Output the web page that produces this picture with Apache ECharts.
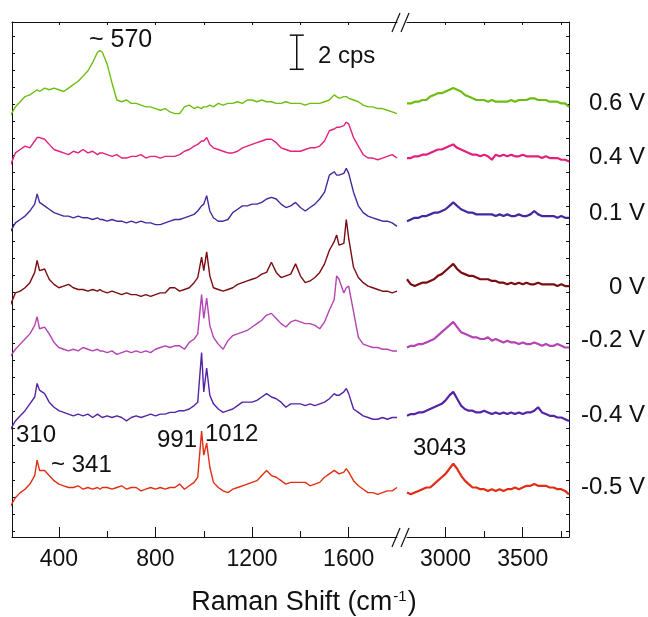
<!DOCTYPE html>
<html>
<head>
<meta charset="utf-8">
<script src="https://cdn.jsdelivr.net/npm/echarts@6/dist/echarts.min.js"></script>
<style>
html, body { margin: 0; padding: 0; background: #fff; }
#chart { width: 648px; height: 617px; }
</style>
</head>
<body>
<div id="chart"></div>
<script>
// 拉曼位移 (cm-1)，左段 200-1800，右段 2750-3800
const xLeft = [200, 220, 240, 260, 280, 300, 310, 320, 341, 360, 380, 400, 420, 440, 460, 480, 500, 520, 540, 560, 570, 580,
  600, 620, 640, 660, 680, 700, 720, 740, 760, 780, 800, 820, 840, 860, 880, 900, 920, 940, 960, 975, 991, 1000, 1012, 1025, 1040,
  1060, 1080, 1100, 1120, 1140, 1160, 1180, 1200, 1220, 1240, 1260, 1280, 1300, 1320, 1340, 1360, 1380, 1400, 1420, 1440, 1460, 1480,
  1500, 1520, 1540, 1550, 1560, 1580, 1590, 1600, 1620, 1640, 1660, 1680, 1700, 1720, 1740, 1760, 1780, 1800]
const xRight = [2750, 2775, 2800, 2825, 2850, 2875, 2900, 2925, 2950, 2975, 3000, 3025, 3050, 3075, 3100, 3125, 3150, 3175, 3200, 3225,
  3250, 3275, 3300, 3325, 3350, 3375, 3400, 3425, 3450, 3475, 3500, 3525, 3550, 3575, 3600, 3625, 3650, 3675, 3700, 3725, 3750, 3775, 3800]

// 刻度
const leftTicks = [400, 800, 1200, 1600]
const leftMinor = [600, 1000, 1400]
const rightTicks = [3000, 3500]
const rightMinor = [3250, 3750]
const yTicks = [0.35, 1.35, 2.35, 3.35, 4.35, 5.35, 6.35, 7.35, 8.35, 9.35, 10.35, 11.35, 12.35, 13.35, 14.35,
  15.35, 16.35, 17.35, 18.35, 19.35, 20.35, 21.35, 22.35, 23.35, 24.35, 25.35, 26.35, 27.35, 28.35, 29.35]

const voltages = ['0.6 V', '0.4 V', '0.1 V', '0 V', '-0.2 V', '-0.4 V', '-0.5 V']

// 各电位谱线（cps，已含堆叠偏移）
const p06L = [24.7, 25.2, 25.5, 25.8, 25.9, 26.1, 26.2, 26.1, 26.3, 26.2, 26.3, 26.2, 26.1, 26.3, 26.5, 26.7, 27.0, 27.3, 27.8, 28.4, 28.5, 28.4,
  27.7, 26.6, 25.6, 25.5, 25.6, 25.4, 25.4, 25.3, 25.2, 25.2, 25.1, 25.0, 25.1, 24.9, 24.8, 24.8, 25.2, 25.3, 25.1, 25.2, 25.1, 25.2, 25.2, 25.3, 25.2,
  25.4, 25.3, 25.4, 25.4, 25.5, 25.4, 25.6, 25.6, 25.5, 25.6, 25.5, 25.5, 25.4, 25.4, 25.5, 25.4, 25.4, 25.4, 25.3, 25.4, 25.4, 25.4,
  25.5, 25.6, 25.9, 25.8, 25.7, 25.8, 25.8, 25.7, 25.6, 25.5, 25.3, 25.2, 25.2, 25.1, 25.1, 25.0, 24.9, 24.8]
const p06R = [25.4, 25.4, 25.5, 25.5, 25.6, 25.6, 25.8, 25.9, 26.0, 26.0, 26.1, 26.2, 26.3, 26.2, 26.1, 25.9, 25.8, 25.7, 25.6, 25.6,
  25.6, 25.5, 25.6, 25.5, 25.5, 25.5, 25.5, 25.6, 25.5, 25.6, 25.6, 25.6, 25.7, 25.7, 25.6, 25.6, 25.6, 25.5, 25.5, 25.5, 25.4, 25.4, 25.2]

const p04L = [21.8, 22.5, 22.7, 22.9, 22.8, 23.2, 23.4, 23.4, 23.3, 23.0, 22.7, 22.6, 22.5, 22.4, 22.6, 22.5, 22.7, 22.5, 22.6, 22.4, 22.5, 22.5,
  22.4, 22.3, 22.4, 22.2, 22.2, 22.3, 22.3, 22.4, 22.2, 22.3, 22.3, 22.2, 22.3, 22.3, 22.3, 22.4, 22.6, 22.7, 22.9, 23.0, 23.2, 23.2, 23.4, 23.0, 22.8,
  22.7, 22.6, 22.5, 22.5, 22.6, 22.8, 22.9, 23.0, 23.1, 23.2, 23.3, 23.3, 23.1, 22.8, 22.7, 22.6, 22.6, 22.6, 22.7, 22.8, 22.8, 22.9,
  23.2, 23.8, 23.9, 24.0, 24.0, 24.1, 24.3, 24.2, 23.4, 22.9, 22.4, 22.2, 22.2, 22.1, 22.2, 22.3, 22.4, 22.2]
const p04R = [22.2, 22.2, 22.3, 22.3, 22.4, 22.4, 22.5, 22.6, 22.7, 22.7, 22.8, 22.9, 23.0, 22.8, 22.7, 22.6, 22.5, 22.4, 22.4, 22.3,
  22.4, 22.3, 22.1, 22.4, 22.3, 22.4, 22.3, 22.4, 22.3, 22.3, 22.4, 22.3, 22.3, 22.3, 22.3, 22.2, 22.3, 22.2, 22.2, 22.2, 22.1, 22.1, 22.0]

const p01L = [17.9, 18.4, 18.6, 18.8, 19.1, 19.5, 20.1, 19.6, 19.4, 19.2, 19.0, 18.9, 18.8, 18.8, 18.7, 18.8, 18.7, 18.7, 18.6, 18.7, 18.6, 18.6,
  18.5, 18.6, 18.5, 18.5, 18.4, 18.5, 18.4, 18.5, 18.4, 18.4, 18.3, 18.3, 18.4, 18.5, 18.6, 18.6, 18.7, 18.8, 18.9, 19.1, 19.4, 19.5, 20.0, 19.1, 18.7,
  18.5, 18.5, 18.6, 19.0, 19.2, 19.4, 19.4, 19.5, 19.5, 19.6, 19.8, 19.9, 19.8, 19.5, 19.3, 19.4, 19.6, 19.3, 19.1, 19.3, 19.5, 19.8,
  20.2, 21.2, 21.4, 21.2, 21.2, 21.3, 21.6, 21.3, 20.2, 19.4, 19.0, 18.8, 18.7, 18.6, 18.5, 18.5, 18.4, 18.2]
const p01R = [18.5, 18.6, 18.7, 18.7, 18.8, 18.8, 18.9, 19.0, 19.0, 19.1, 19.2, 19.4, 19.6, 19.4, 19.2, 19.1, 19.0, 19.0, 18.9, 18.9,
  18.9, 18.9, 18.9, 18.8, 18.9, 18.8, 18.9, 18.8, 18.8, 18.9, 18.8, 18.8, 18.9, 19.1, 18.9, 18.8, 18.8, 18.8, 18.8, 18.7, 18.8, 18.7, 18.7]

const z0L = [13.6, 14.3, 14.4, 14.6, 14.9, 15.5, 16.2, 15.6, 15.7, 15.1, 14.8, 14.6, 14.7, 14.8, 14.6, 14.5, 14.5, 14.4, 14.5, 14.4, 14.5, 14.4,
  14.3, 14.4, 14.3, 14.2, 14.3, 14.2, 14.2, 14.1, 14.2, 14.1, 14.2, 14.3, 14.3, 14.6, 14.6, 14.4, 14.5, 14.6, 14.9, 15.2, 16.4, 15.6, 16.7, 15.3, 14.6,
  14.5, 14.4, 14.5, 14.6, 14.8, 14.9, 15.0, 15.1, 15.2, 15.4, 15.5, 16.1, 15.5, 15.2, 15.3, 15.4, 16.0, 15.3, 14.9, 15.0, 15.2, 15.5,
  16.0, 16.8, 17.3, 17.7, 17.1, 17.2, 18.6, 17.5, 15.8, 15.2, 14.9, 14.7, 14.6, 14.5, 14.4, 14.4, 14.3, 14.4]
const z0R = [15.1, 14.8, 14.7, 14.8, 14.9, 14.9, 15.0, 15.1, 15.3, 15.4, 15.6, 15.8, 16.0, 15.7, 15.5, 15.4, 15.3, 15.3, 15.2, 15.1,
  15.1, 15.1, 15.0, 15.0, 14.9, 14.9, 14.8, 14.9, 14.8, 14.9, 14.8, 14.9, 14.8, 14.8, 14.9, 14.8, 14.8, 14.8, 14.8, 14.7, 14.8, 14.7, 14.7]

const m02L = [10.6, 11.0, 11.3, 11.6, 11.9, 12.4, 12.9, 12.2, 12.3, 11.9, 11.4, 11.1, 11.0, 10.9, 11.0, 10.9, 11.1, 11.0, 10.9, 11.0, 10.9, 10.9,
  10.8, 10.9, 10.7, 10.8, 10.9, 10.8, 10.9, 10.8, 10.9, 10.8, 11.0, 11.1, 11.2, 11.1, 11.2, 11.2, 11.0, 11.4, 11.6, 11.9, 14.2, 12.8, 14.0, 12.4, 11.7,
  11.3, 11.0, 11.5, 11.8, 11.9, 12.0, 12.1, 12.3, 12.5, 12.7, 13.0, 13.1, 12.8, 12.5, 12.3, 12.6, 12.7, 12.6, 12.5, 12.5, 12.4, 12.2,
  12.6, 13.3, 13.9, 15.3, 15.1, 14.3, 14.6, 14.7, 13.2, 11.7, 11.3, 11.2, 11.1, 11.1, 11.0, 11.0, 10.9, 10.9]
const m02R = [11.1, 11.2, 11.2, 11.3, 11.3, 11.4, 11.5, 11.6, 11.8, 12.0, 12.2, 12.4, 12.6, 12.3, 12.0, 11.9, 11.8, 11.7, 11.7, 11.6,
  11.6, 11.7, 11.5, 11.6, 11.5, 11.4, 11.5, 11.4, 11.4, 11.3, 11.4, 11.3, 11.3, 11.4, 11.3, 11.2, 11.3, 11.2, 11.2, 11.3, 11.2, 11.1, 11.1]

const m04L = [6.3, 6.8, 7.1, 7.4, 7.8, 8.2, 9.0, 8.6, 8.4, 7.9, 7.6, 7.4, 7.3, 7.2, 7.1, 7.2, 7.1, 7.2, 7.0, 7.2, 7.1, 7.0,
  7.1, 7.0, 7.1, 7.0, 6.8, 7.0, 7.1, 7.0, 7.1, 7.2, 7.1, 7.2, 7.2, 7.3, 7.3, 7.4, 7.4, 7.5, 7.7, 7.9, 10.8, 8.5, 9.9, 8.3, 7.8,
  7.5, 7.3, 7.4, 7.5, 7.7, 7.9, 7.9, 7.9, 8.0, 8.2, 8.4, 8.2, 8.1, 7.9, 7.6, 7.8, 7.8, 7.8, 7.7, 7.8, 7.7, 7.8,
  7.9, 8.1, 8.4, 8.3, 8.3, 8.5, 8.7, 8.4, 7.5, 7.3, 7.1, 7.0, 6.9, 6.9, 7.0, 6.9, 7.0, 7.0]
const m04R = [7.1, 7.2, 7.2, 7.3, 7.3, 7.4, 7.5, 7.6, 7.7, 7.8, 8.0, 8.3, 8.5, 8.1, 7.7, 7.5, 7.4, 7.4, 7.3, 7.3,
  7.4, 7.3, 7.2, 7.3, 7.2, 7.3, 7.2, 7.3, 7.2, 7.3, 7.2, 7.3, 7.3, 7.4, 7.6, 7.3, 7.2, 7.1, 7.1, 7.0, 7.0, 6.9, 6.8]

const m05L = [1.8, 2.3, 2.6, 2.8, 3.1, 3.6, 4.5, 3.9, 3.9, 3.6, 3.3, 3.1, 3.0, 2.9, 2.9, 3.0, 2.8, 2.9, 2.8, 2.9, 2.8, 2.9,
  2.9, 2.8, 2.9, 3.0, 2.8, 2.9, 2.9, 2.7, 2.8, 2.9, 2.8, 2.9, 2.8, 2.9, 2.9, 3.1, 2.8, 3.0, 3.2, 3.5, 6.2, 4.8, 5.5, 4.1, 3.2,
  2.9, 2.7, 2.6, 2.8, 2.9, 3.0, 3.1, 3.2, 3.3, 3.6, 3.9, 3.6, 3.5, 3.3, 3.1, 3.2, 3.2, 3.2, 3.2, 3.0, 3.1, 3.2,
  3.5, 3.7, 3.9, 3.8, 3.7, 3.8, 4.0, 3.8, 3.3, 3.0, 2.8, 2.6, 2.6, 2.5, 2.6, 2.7, 2.7, 2.9]
const m05R = [2.6, 2.5, 2.6, 2.7, 2.8, 2.9, 2.9, 3.1, 3.3, 3.5, 3.7, 4.0, 4.3, 4.0, 3.6, 3.3, 3.1, 2.9, 2.9, 2.8,
  2.8, 2.7, 2.8, 2.7, 2.8, 2.7, 2.8, 2.8, 2.9, 2.8, 2.9, 3.0, 3.0, 3.1, 3.0, 3.0, 3.0, 2.9, 2.9, 2.8, 2.8, 2.7, 2.5]

// 2 cps 标尺（位置按数据坐标）
const scaleBarX = 1385
const scaleBarY = [27.4, 29.4]

const font = 'Liberation Sans, Arial, Helvetica, sans-serif'
const ink = '#111'

let traces = [
  { left: p06L, right: p06R, color: '#6dbe10' },
  { left: p04L, right: p04R, color: '#e3207c' },
  { left: p01L, right: p01R, color: '#45299c' },
  { left: z0L, right: z0R, color: '#7a0c12' },
  { left: m02L, right: m02R, color: '#b443b4' },
  { left: m04L, right: m04R, color: '#5524a6' },
  { left: m05L, right: m05R, color: '#e22d14' }
]

let xAx = (grid, pos, min, max, ticks, len, showLine, labels) => ({
  type: 'value', gridIndex: grid, position: pos, min: min, max: max,
  axisLine: { show: showLine, onZero: false, lineStyle: { color: ink, width: 1 } },
  axisTick: { show: true, inside: true, length: len, customValues: ticks, lineStyle: { color: ink, width: 1 } },
  axisLabel: labels
    ? { show: true, customValues: labels, margin: 11, color: ink, fontSize: 23, fontFamily: font, formatter: v => String(v) }
    : { show: false },
  splitLine: { show: false }
})
let yAx = (grid, pos) => ({
  type: 'value', gridIndex: grid, position: pos, min: 0, max: 30.17,
  axisLine: { show: true, onZero: false, lineStyle: { color: ink, width: 1 } },
  axisTick: { show: true, inside: true, length: 3, customValues: yTicks, lineStyle: { color: ink, width: 1 } },
  axisLabel: { show: false },
  splitLine: { show: false }
})

let series = []
traces.forEach(t => {
  series.push({
    type: 'line', xAxisIndex: 0, yAxisIndex: 0, symbol: 'none', silent: true,
    lineStyle: { color: t.color, width: 1.4 },
    data: xLeft.map((x, i) => [x, t.left[i]])
  })
  series.push({
    type: 'line', xAxisIndex: 3, yAxisIndex: 1, symbol: 'none', silent: true,
    lineStyle: { color: t.color, width: 2.2 },
    data: xRight.map((x, i) => [x, t.right[i]])
  })
})

let myChart = echarts.init(document.getElementById('chart'))
myChart.setOption({
  animation: false,
  backgroundColor: '#fff',
  grid: [
    { left: 12, top: 22, width: 385, height: 515 },
    { left: 407, top: 22, width: 162, height: 515 }
  ],
  xAxis: [
    xAx(0, 'bottom', 206, 1800, leftTicks, 10, true, leftTicks),
    xAx(0, 'bottom', 206, 1800, leftMinor, 6, false, null),
    xAx(0, 'top', 206, 1800, leftTicks.concat(leftMinor), 3, true, null),
    xAx(1, 'bottom', 2750, 3800, rightTicks, 10, true, rightTicks),
    xAx(1, 'bottom', 2750, 3800, rightMinor, 6, false, null),
    xAx(1, 'top', 2750, 3800, rightTicks.concat(rightMinor), 3, true, null)
  ],
  yAxis: [yAx(0, 'left'), yAx(1, 'right')],
  series: series
})

// 文本、断轴符号、标尺
let txt = (text, x, y, align, size) => ({
  type: 'text', x: x, y: y, silent: true,
  style: {
    text: text, font: (size || 24) + 'px ' + font, fill: ink,
    align: align || 'left', verticalAlign: 'middle',
    textAlign: align || 'left', textVerticalAlign: 'middle'
  }
})
let seg = (x1, y1, x2, y2, w) => ({
  type: 'line', silent: true,
  shape: { x1: x1, y1: y1, x2: x2, y2: y2 },
  style: { stroke: ink, lineWidth: w || 1.2 }
})

let labelY = [103, 157, 213, 287, 340, 415, 487]
let graphics = voltages.map((v, i) => txt(v, 645, labelY[i], 'right'))
graphics.push(txt('~ 570', 89, 40, 'left', 25))
graphics.push(txt('2 cps', 318, 56))
graphics.push(txt('310', 16, 435))
graphics.push(txt('~ 341', 51, 465))
graphics.push(txt('991', 157, 440))
graphics.push(txt('1012', 205, 434))
graphics.push(txt('3043', 413, 448))

// 断轴 //
;[22, 537].forEach(y => {
  graphics.push({ type: 'rect', silent: true, shape: { x: 397, y: y - 2, width: 10, height: 4 }, style: { fill: '#fff' } })
  graphics.push(seg(392, y + 10, 400, y - 9))
  graphics.push(seg(401, y + 10, 409, y - 9))
})

// 2 cps 标尺
let pTop = myChart.convertToPixel({ xAxisIndex: 0, yAxisIndex: 0 }, [scaleBarX, scaleBarY[1]])
let pBot = myChart.convertToPixel({ xAxisIndex: 0, yAxisIndex: 0 }, [scaleBarX, scaleBarY[0]])
graphics.push(seg(pTop[0], pTop[1], pBot[0], pBot[1], 1.5))
graphics.push(seg(pTop[0] - 7, pTop[1], pTop[0] + 7, pTop[1], 1.5))
graphics.push(seg(pBot[0] - 7, pBot[1], pBot[0] + 7, pBot[1], 1.5))

// 横轴标题
graphics.push({
  type: 'text', x: 304, y: 603, silent: true,
  style: {
    text: '{a|Raman Shift (cm}{s|-1}{a|)}',
    align: 'center', verticalAlign: 'middle', textAlign: 'center', textVerticalAlign: 'middle',
    rich: {
      a: { fontSize: 27, fontFamily: font, fill: ink, color: ink },
      s: { fontSize: 15, fontFamily: font, fill: ink, color: ink, verticalAlign: 'top', padding: [0, 1, 0, 1] }
    }
  }
})

myChart.setOption({ graphic: graphics })
</script>
</body>
</html>
